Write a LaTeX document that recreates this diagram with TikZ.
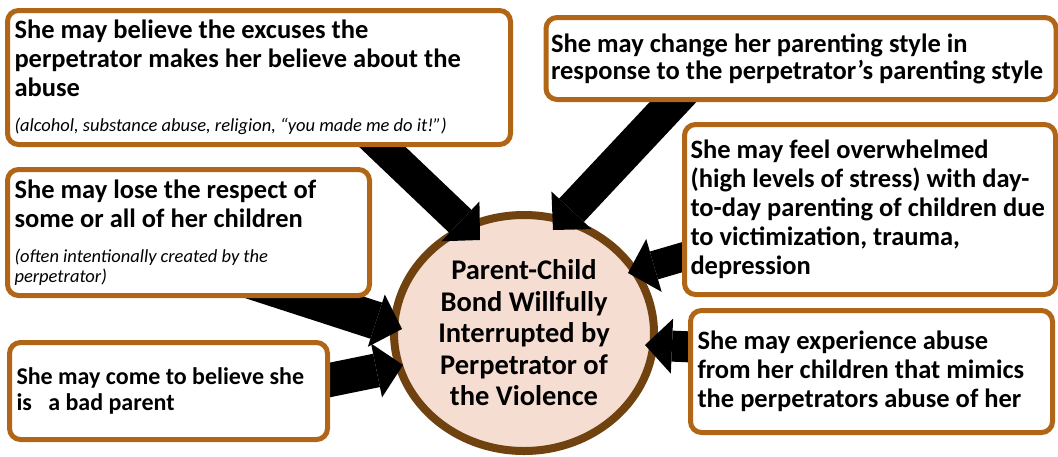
\documentclass[tikz,border=0pt]{standalone}
\usepackage{fontspec}
\setmainfont{Carlito}
\usetikzlibrary{arrows.meta,shapes.geometric}
\definecolor{boxbrown}{RGB}{176,102,22}
\definecolor{bonddark}{RGB}{112,66,16}
\definecolor{bondpink}{RGB}{245,221,210}
\pgfdeclarelayer{backlayer}
\pgfdeclarelayer{frontlayer}
\pgfsetlayers{backlayer,main,frontlayer}
\tikzset{
  effectbox/.style={draw=boxbrown,line width=5pt,fill=white,rounded corners=11pt,
    inner xsep=7pt,inner ysep=0pt,outer sep=0pt,align=flush left,
    font=\bfseries\fontsize{26.5}{29}\selectfont},
  bigarrow/.style={line width=32pt,-{Triangle[width=55pt,length=27pt,line width=0pt]}}
}
\newcommand{\sidenote}[1]{\par\vspace{15pt}{\mdseries\itshape\fontsize{18.5}{20}\selectfont #1\par}}

\begin{document}
\begin{tikzpicture}[x=1pt,y=-1pt]
\useasboundingbox (0,0) rectangle (1058,456);
\begin{pgfonlayer}{backlayer}
\node[ellipse,draw=bonddark,line width=8pt,fill=bondpink,minimum width=260pt,minimum height=236pt,
  inner sep=0pt,outer sep=0pt,align=flush center,font=\bfseries\fontsize{28.5}{31.5}\selectfont]
  (bond) at (524,333) {Parent-Child\\Bond Willfully\\Interrupted by\\Perpetrator of\\the Violence};
\end{pgfonlayer}
\begin{pgfonlayer}{frontlayer}
\node[effectbox,minimum width=503pt,minimum height=134pt,text width=489pt] (excuses) at (259,77.5)
  {She may believe the excuses the\\perpetrator makes her believe about the\\abuse
   \sidenote{(alcohol, substance abuse, religion, “you made me do it!”)}};
\node[effectbox,inner xsep=5pt,minimum width=510pt,minimum height=82pt,text width=500pt] (parenting) at (801,58.5)
  {\fontsize{26.5}{27}\selectfont She may change her parenting style in\\response to the perpetrator’s parenting style\par\vspace{14pt}};
\node[effectbox,minimum width=362pt,minimum height=126pt,text width=348pt] (respect) at (188.5,232.5)
  {She may lose the respect of\\some or all of her children
   \sidenote{(often intentionally created by the\\perpetrator)}};
\node[effectbox,minimum width=318pt,minimum height=97pt,text width=304pt,
  font=\bfseries\fontsize{24}{26}\selectfont] (badparent) at (168.5,391)
  {She may come to believe she\\is~~~a bad parent};
\node[effectbox,inner xsep=6pt,minimum width=371pt,minimum height=170pt,text width=359pt] (overwhelmed) at (870,209.5)
  {She may feel overwhelmed\\(high levels of stress) with day-\\to-day parenting of children due\\to victimization, trauma,\\depression};
\node[effectbox,minimum width=362pt,minimum height=122pt,text width=348pt] (mimics) at (871.5,371.5)
  {She may experience abuse\\from her children that mimics\\the perpetrators abuse of her};
\end{pgfonlayer}
\coordinate (tipA) at (480,240);
\coordinate (tipB) at (553,230);
\coordinate (tipC) at (402,329);
\coordinate (tipD) at (403,365);
\coordinate (tipE) at (628,273);
\coordinate (tipF) at (645,345);
\draw[bigarrow] ([xshift=104pt,yshift=16pt]excuses.south) -- (tipA);
\draw[bigarrow,line width=34pt] ([xshift=-112pt,yshift=14.5pt]parenting.south) -- (tipB);
\draw[bigarrow,line width=38pt] ([xshift=31.5pt,yshift=25.5pt]respect.south) -- (tipC);
\draw[bigarrow,line width=34pt] ([xshift=-17.5pt,yshift=7pt]badparent.east) -- (tipD);
\draw[bigarrow,line width=29pt] ([xshift=15.5pt,yshift=-42.5pt]overwhelmed.west) -- (tipE);
\draw[bigarrow,line width=31pt] ([xshift=14.5pt,yshift=24pt]mimics.west) -- (tipF);
\end{tikzpicture}
\end{document}
